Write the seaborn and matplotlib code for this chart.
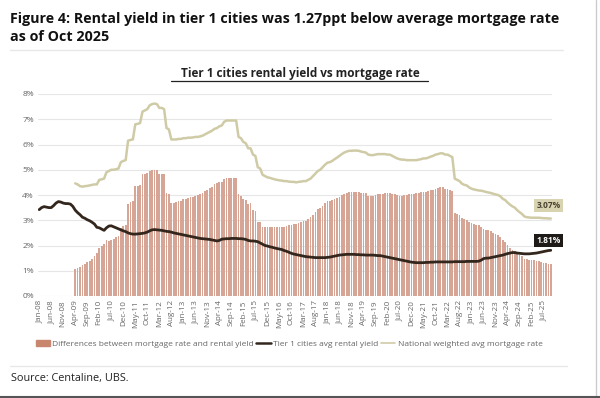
import matplotlib
matplotlib.use('Agg')
import matplotlib.pyplot as plt
from matplotlib.lines import Line2D
from matplotlib.patches import Patch
import seaborn as sns
import numpy as np
import pandas as pd

# monthly, Jan-08 .. Oct-25
months = pd.date_range('2008-01-01', periods=214, freq='MS')

# national weighted avg mortgage rate (%), starts Apr-09
mortgage = [np.nan] * 15 + [
    4.46, 4.42, 4.35, 4.33, 4.35, 4.36, 4.38, 4.40, 4.42,                 # 2009 Apr-Dec
    4.42, 4.60, 4.62, 4.65, 4.90, 4.95, 5.00, 5.00, 5.02, 5.05, 5.30, 5.35,  # 2010
    5.38, 6.15, 6.18, 6.20, 6.80, 6.82, 6.85, 7.30, 7.35, 7.40, 7.55, 7.60,  # 2011
    7.62, 7.60, 7.45, 7.45, 7.40, 6.65, 6.60, 6.20, 6.20, 6.20, 6.22, 6.22,  # 2012
    6.25, 6.25, 6.27, 6.27, 6.28, 6.30, 6.30, 6.32, 6.35, 6.40, 6.45, 6.50,  # 2013
    6.55, 6.62, 6.65, 6.72, 6.75, 6.90, 6.95, 6.95, 6.95, 6.95, 6.95, 6.30,  # 2014
    6.25, 6.10, 6.05, 5.85, 5.85, 5.60, 5.55, 5.10, 5.05, 4.80, 4.75, 4.70,  # 2015
    4.68, 4.65, 4.62, 4.60, 4.58, 4.57, 4.55, 4.55, 4.53, 4.52, 4.52, 4.50,  # 2016
    4.52, 4.53, 4.55, 4.55, 4.60, 4.65, 4.75, 4.85, 4.95, 5.00, 5.10, 5.20,  # 2017
    5.28, 5.30, 5.35, 5.42, 5.48, 5.55, 5.62, 5.68, 5.72, 5.75, 5.75, 5.76,  # 2018
    5.76, 5.75, 5.72, 5.70, 5.68, 5.60, 5.58, 5.58, 5.60, 5.62, 5.62, 5.62,  # 2019
    5.62, 5.60, 5.60, 5.55, 5.50, 5.45, 5.42, 5.40, 5.40, 5.38, 5.38, 5.38,  # 2020
    5.38, 5.38, 5.40, 5.42, 5.45, 5.45, 5.48, 5.52, 5.55, 5.60, 5.62, 5.65,  # 2021
    5.65, 5.60, 5.60, 5.55, 5.50, 4.65, 4.60, 4.55, 4.45, 4.40, 4.38, 4.30,  # 2022
    4.25, 4.22, 4.20, 4.18, 4.17, 4.15, 4.12, 4.10, 4.08, 4.05, 4.02, 4.00,  # 2023
    3.95, 3.85, 3.80, 3.70, 3.62, 3.55, 3.50, 3.40, 3.32, 3.25, 3.15, 3.12,  # 2024
    3.11, 3.10, 3.10, 3.10, 3.10, 3.09, 3.08, 3.08, 3.07, 3.07,              # 2025 Jan-Oct
]

# tier 1 cities avg rental yield (%)
rental = [
    3.42, 3.50, 3.54, 3.52, 3.50, 3.50, 3.58, 3.68, 3.74, 3.72, 3.68, 3.66,  # 2008
    3.66, 3.64, 3.55, 3.40, 3.30, 3.22, 3.12, 3.08, 3.02, 2.98, 2.92, 2.85,  # 2009
    2.72, 2.70, 2.65, 2.60, 2.70, 2.77, 2.78, 2.74, 2.70, 2.66, 2.62, 2.58,  # 2010
    2.55, 2.50, 2.47, 2.45, 2.45, 2.46, 2.47, 2.48, 2.50, 2.53, 2.58, 2.62,  # 2011
    2.63, 2.62, 2.61, 2.60, 2.58, 2.56, 2.55, 2.53, 2.50, 2.48, 2.46, 2.44,  # 2012
    2.42, 2.40, 2.38, 2.36, 2.34, 2.32, 2.30, 2.28, 2.27, 2.26, 2.25, 2.24,  # 2013
    2.22, 2.20, 2.18, 2.20, 2.25, 2.26, 2.27, 2.27, 2.28, 2.28, 2.28, 2.27,  # 2014
    2.27, 2.26, 2.24, 2.20, 2.18, 2.18, 2.17, 2.15, 2.10, 2.05, 2.00, 1.98,  # 2015
    1.95, 1.93, 1.90, 1.88, 1.86, 1.84, 1.80, 1.77, 1.73, 1.69, 1.66, 1.64,  # 2016
    1.62, 1.60, 1.58, 1.56, 1.55, 1.54, 1.53, 1.52, 1.52, 1.52, 1.52, 1.52,  # 2017
    1.53, 1.54, 1.56, 1.58, 1.60, 1.62, 1.63, 1.64, 1.65, 1.65, 1.65, 1.65,  # 2018
    1.64, 1.64, 1.63, 1.63, 1.62, 1.62, 1.62, 1.62, 1.61, 1.60, 1.60, 1.58,  # 2019
    1.56, 1.54, 1.52, 1.50, 1.48, 1.46, 1.44, 1.42, 1.40, 1.38, 1.36, 1.34,  # 2020
    1.33, 1.32, 1.32, 1.32, 1.32, 1.33, 1.33, 1.34, 1.34, 1.35, 1.35, 1.35,  # 2021
    1.35, 1.35, 1.35, 1.35, 1.35, 1.36, 1.36, 1.36, 1.36, 1.36, 1.37, 1.37,  # 2022
    1.37, 1.37, 1.37, 1.38, 1.42, 1.48, 1.50, 1.50, 1.52, 1.54, 1.56, 1.58,  # 2023
    1.60, 1.62, 1.65, 1.68, 1.70, 1.72, 1.72, 1.70, 1.69, 1.68, 1.67, 1.67,  # 2024
    1.67, 1.68, 1.69, 1.70, 1.72, 1.74, 1.76, 1.78, 1.80, 1.81,              # 2025 Jan-Oct
]

tick_step = 5
label_bar = 'Differences between mortgage rate and rental yield'
label_rent = 'Tier 1 cities avg rental yield'
label_mort = 'National weighted avg mortgage rate'

df = pd.DataFrame({'idx': np.arange(len(months)), 'month': months,
                   'mortgage': mortgage, 'rental': rental})
df['diff'] = df['mortgage'] - df['rental']

sns.set_style('white')
plt.rcParams['font.family'] = ['Open Sans', 'DejaVu Sans']

bar_c = '#D6A595'
rent_c = '#33261D'
mort_c = '#CFCBA6'

fig = plt.figure(figsize=(6, 3.98), dpi=100)
ax = fig.add_axes([38 / 600, 1 - 296 / 398, 514 / 600, 202 / 398])

sns.barplot(data=df, x='idx', y='diff', native_scale=True, color=bar_c,
            width=0.72, linewidth=0, saturation=1, ax=ax, zorder=2)
sns.lineplot(data=df, x='idx', y='mortgage', color=mort_c, lw=1.8, ax=ax, zorder=3)
sns.lineplot(data=df, x='idx', y='rental', color=rent_c, lw=2.0, ax=ax, zorder=4)

ax.set_xlim(-0.5, len(months) - 0.5)
ax.set_ylim(0, 8)
ax.set_yticks(range(0, 9))
ax.set_yticklabels([f'{v}%' for v in range(0, 9)], fontsize=6, color='#666666')
ticks = list(range(0, len(months), tick_step))
ax.set_xticks(ticks)
ax.set_xticklabels([months[i].strftime('%b-%y') for i in ticks], rotation=90,
                   fontsize=5.8, color='#666666')
ax.tick_params(axis='both', length=0, pad=3)
ax.grid(axis='y', color='#E6E6E6', lw=0.8, zorder=0)
ax.set_axisbelow(True)
for s in ax.spines.values():
    s.set_visible(False)
ax.set_xlabel('')
ax.set_ylabel('')

# end labels
last = len(months) - 1
ax.text(last - 1, 3.6, f'{mortgage[-1]:.2f}%', fontsize=6, fontweight='bold',
        color='#4A4030', ha='center', va='center', clip_on=False, zorder=6,
        bbox=dict(boxstyle='square,pad=0.25', fc='#D8D3B0', ec='none'))
ax.text(last - 1, 2.2, f'{rental[-1]:.2f}%', fontsize=6, fontweight='bold',
        color='white', ha='center', va='center', clip_on=False, zorder=6,
        bbox=dict(boxstyle='square,pad=0.25', fc='#1E1A17', ec='none'))

handles = [Patch(color='#C8866F', label=label_bar),
           Line2D([], [], color=rent_c, lw=1.8, label=label_rent),
           Line2D([], [], color=mort_c, lw=1.2, label=label_mort)]
fig.legend(handles=handles, loc='center', bbox_to_anchor=(289 / 600, 1 - 344 / 398),
           ncol=3, frameon=False, fontsize=6, handlelength=1.7, handletextpad=0.3,
           columnspacing=0.3, labelcolor='#666666')

fig.text(10 / 600, 1 - 19 / 398, 'Figure 4: Rental yield in tier 1 cities was 1.27ppt below average mortgage rate',
         fontsize=10.3, fontweight='bold', color='#111111', va='center')
fig.text(10 / 600, 1 - 37 / 398, 'as of Oct 2025',
         fontsize=10.3, fontweight='bold', color='#111111', va='center')
fig.add_artist(Line2D([10 / 600, 563 / 600], [1 - 50 / 398] * 2, color='#E8E8E8', lw=1))
fig.text(300 / 600, 1 - 73 / 398, 'Tier 1 cities rental yield vs mortgage rate',
         fontsize=8.5, fontweight='bold', color='#222222', ha='center', va='center')
fig.add_artist(Line2D([171 / 600, 428 / 600], [1 - 81 / 398] * 2, color='#222222', lw=0.9))
fig.add_artist(Line2D([10 / 600, 567 / 600], [1 - 366 / 398] * 2, color='#E8E8E8', lw=1))
fig.text(11 / 600, 1 - 379 / 398, 'Source: Centaline, UBS.', fontsize=7.8, color='#222222', va='center')
fig.add_artist(Line2D([595.5 / 600] * 2, [0, 1], color='#CCCCCC', lw=1))
fig.add_artist(Line2D([0, 1], [0.8 / 398] * 2, color='#555555', lw=1.5))

fig.savefig('out.png', dpi=100)
